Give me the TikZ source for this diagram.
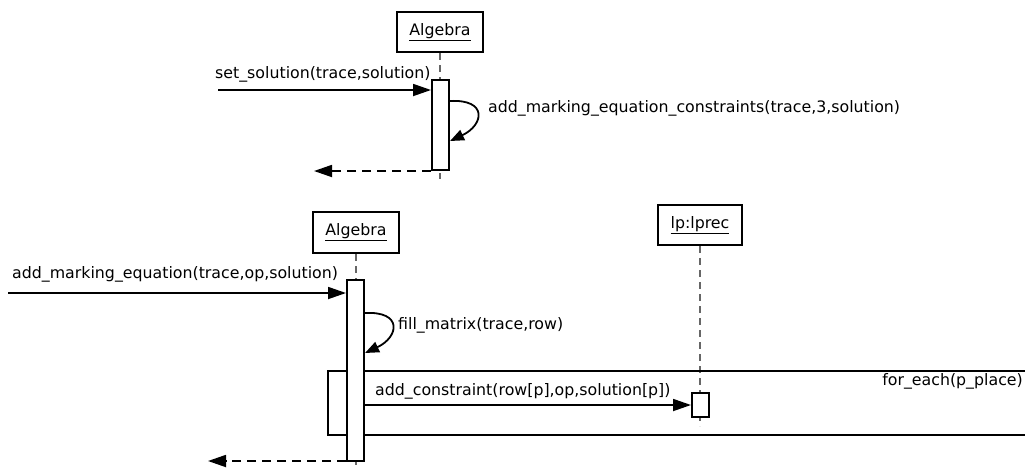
\documentclass[tikz,border=0pt]{standalone}
\usepackage{fontspec}
\setmainfont{DejaVu Sans}
\usetikzlibrary{arrows.meta}
\begin{document}
\begin{tikzpicture}[x=1pt, y=-1pt,
           font=\fontsize{15.8}{18}\selectfont,
           object/.style = {draw, line width=2pt, fill=white,
             minimum width=86pt, minimum height=40pt, inner sep=0pt},
           activation/.style = {draw, line width=2pt, fill=white,
             minimum width=17pt, inner sep=0pt},
           lifeline/.style = {draw=black!60, line width=1.3pt, dash pattern=on 7pt off 5pt},
           call/.style = {line width=1.8pt, -{Triangle[length=18pt,width=12pt]}},
           selfcall/.style = {line width=1.8pt, -{Triangle[length=14pt,width=11pt]}},
           reply/.style = {line width=1.8pt, dash pattern=on 9pt off 6pt,
             -{Triangle[length=18pt,width=12pt]}},
           msg/.style = {inner sep=0pt, anchor=west}]
  \useasboundingbox (0,0) rectangle (1025,467);
  \clip (0,0) rectangle (1025,467);

  % set_solution
  \node[object] (alg1) at (440,32) {\underline{Algebra}};
  \coordinate (end1) at (440,179);
  \draw[lifeline] (alg1.south) -- (end1);
  \node[activation, minimum height=90pt] (act1) at (440.5,125) {};
  \coordinate (in1) at (218,90);
  \coordinate (out1) at (314,171);
  \draw[call] (in1) -- (in1 -| act1.west);
  \node[msg] (lbl1) at (215,74) {set\_solution(trace,solution)};
  \draw[selfcall] (act1.east |- 0,101) .. controls +(38,-2) and +(34,-16) .. (act1.east |- 0,141);
  \node[msg] (lbl2) at (488,108) {add\_marking\_equation\_constraints(trace,3,solution)};
  \draw[reply] (act1.west |- out1) -- (out1);

  % add_marking_equation
  \node[object, minimum height=41pt] (alg2) at (356,232.5) {\underline{Algebra}};
  \node[object, minimum width=84pt] (lp) at (700,225) {\underline{lp:lprec}};
  \coordinate (end2) at (356,470);
  \coordinate (end3) at (700,426);
  \draw[lifeline] (alg2.south) -- (end2);
  \draw[lifeline] (lp.south) -- (end3);
  % loop frame
  \node[draw, line width=2pt, minimum width=720pt, minimum height=64pt,
        anchor=north west] (loop) at (327,370) {};
  \node[anchor=north east, inner sep=0pt] (guard) at (1023,373) {for\_each(p\_place)};
  \node[activation, minimum height=181pt] (act2) at (355.5,370.5) {};
  \node[activation, minimum height=24pt] (act3) at (700.5,405) {};
  \coordinate (in2) at (8,293);
  \coordinate (out2) at (208,461);
  \draw[call] (in2) -- (in2 -| act2.west);
  \node[msg] (lbl3) at (12,274) {add\_marking\_equation(trace,op,solution)};
  \draw[selfcall] (act2.east |- 0,313) .. controls +(38,-2) and +(34,-16) .. (act2.east |- 0,353);
  \node[msg] (lbl4) at (398,325) {fill\_matrix(trace,row)};
  \draw[call] (act2.east |- act3) -- (act3.west);
  \node[msg] (lbl5) at (375,391) {add\_constraint(row[p],op,solution[p])};
  \draw[reply] (act2.west |- out2) -- (out2);
\end{tikzpicture}
\end{document}
